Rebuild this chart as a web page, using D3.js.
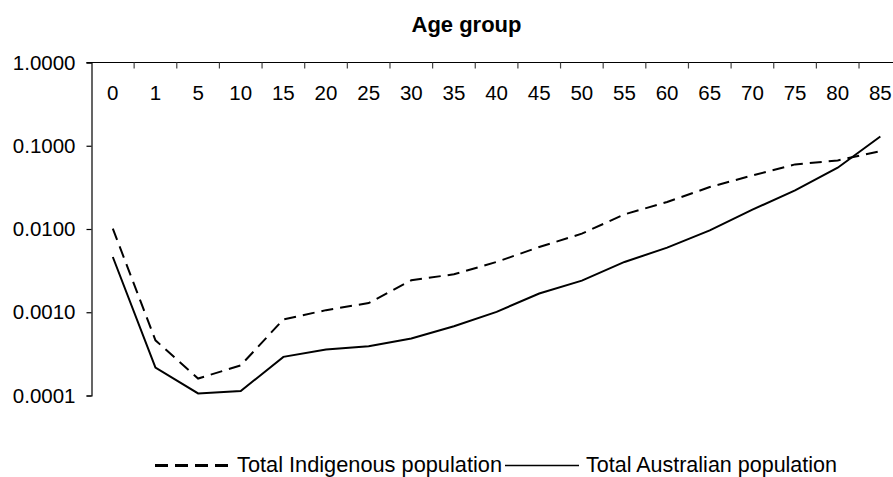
<!DOCTYPE html>
<html>
<head>
<meta charset="utf-8">
<script src="https://cdn.jsdelivr.net/npm/d3@7"></script>
<style>
  html, body { margin: 0; padding: 0; background: #fff; }
  svg { display: block; font-family: Arial, "Liberation Sans", sans-serif; }
</style>
</head>
<body>
<svg id="chart" width="893" height="477"></svg>
<script>
const categories = ["0","1","5","10","15","20","25","30","35","40","45","50","55","60","65","70","75","80","85"];
const indigenous = [0.0101,0.00046,0.00016,0.00023,0.00082,0.00106,0.00129,0.00242,0.00286,0.00402,0.00608,0.00879,0.0150,0.0211,0.0319,0.0440,0.0597,0.0667,0.0863];
const australian = [0.00461,0.000217,0.000106,0.000113,0.000291,0.000357,0.000391,0.000483,0.000679,0.00101,0.00168,0.00240,0.00402,0.00597,0.00964,0.0171,0.0291,0.0545,0.129];
const yTicks = [1, 0.1, 0.01, 0.001, 0.0001];
const seriesNames = ["Total Indigenous population", "Total Australian population"];

(function () {
const svg = d3.select("#chart");
const mLeft = 91.5, mTop = 62.5, mBottom = 395.5, step = 42.64;

const x = d3.scaleBand().domain(categories).range([mLeft, mLeft + step * categories.length]).paddingInner(0).paddingOuter(0);
const y = d3.scaleLog().domain([0.0001, 1]).range([mBottom, mTop]);

// Title
svg.append("text").attr("x", 466.5).attr("y", 32).attr("text-anchor", "middle")
  .attr("font-weight", "bold").attr("font-size", 22).attr("fill", "#000").text("Age group");

// Y axis
const yAxis = d3.axisLeft(y).tickValues(yTicks).tickFormat(d3.format(".4f")).tickSize(5).tickPadding(11);
const gy = svg.append("g").attr("transform", `translate(${mLeft},0)`).call(yAxis);
gy.select(".domain").attr("stroke", "#000").attr("stroke-width", 1.2);
gy.selectAll(".tick line").attr("stroke", "#000").attr("stroke-width", 1.2);
gy.selectAll(".tick text").attr("font-size", 20.5).attr("fill", "#000").attr("font-family", "Arial, 'Liberation Sans', sans-serif");

// Top category axis (line at value 1.0)
svg.append("line").attr("x1", mLeft - 5).attr("x2", 900).attr("y1", mTop).attr("y2", mTop)
  .attr("stroke", "#000").attr("stroke-width", 1.2);
const boundaries = categories.map(c => x(c) + x.bandwidth());
svg.append("g").selectAll("line").data(boundaries).join("line")
  .attr("x1", d => d).attr("x2", d => d).attr("y1", mTop).attr("y2", mTop + 6)
  .attr("stroke", "#444").attr("stroke-width", 1.2);
svg.append("g").selectAll("text").data(categories).join("text")
  .attr("x", d => x(d) + x.bandwidth() / 2).attr("y", 100)
  .attr("text-anchor", "middle").attr("font-size", 20.5).attr("fill", "#000").text(d => d);

// Lines
const line = d3.line().x((d, i) => x(categories[i]) + x.bandwidth() / 2).y(d => y(d));
svg.append("path").datum(indigenous).attr("d", line).attr("fill", "none")
  .attr("stroke", "#000").attr("stroke-width", 2).attr("stroke-dasharray", "12,7");
svg.append("path").datum(australian).attr("d", line).attr("fill", "none")
  .attr("stroke", "#000").attr("stroke-width", 2);

// Legend
const lg = svg.append("g");
lg.append("line").attr("x1", 155).attr("x2", 230).attr("y1", 465.5).attr("y2", 465.5)
  .attr("stroke", "#000").attr("stroke-width", 3).attr("stroke-dasharray", "13,7");
lg.append("text").attr("x", 237).attr("y", 472).attr("font-size", 22)
  .attr("textLength", 265).attr("lengthAdjust", "spacingAndGlyphs").attr("fill", "#000").text(seriesNames[0]);
lg.append("line").attr("x1", 505).attr("x2", 579).attr("y1", 465.5).attr("y2", 465.5)
  .attr("stroke", "#000").attr("stroke-width", 1.5);
lg.append("text").attr("x", 586).attr("y", 472).attr("font-size", 22)
  .attr("textLength", 251).attr("lengthAdjust", "spacingAndGlyphs").attr("fill", "#000").text(seriesNames[1]);
})();
</script>
</body>
</html>
